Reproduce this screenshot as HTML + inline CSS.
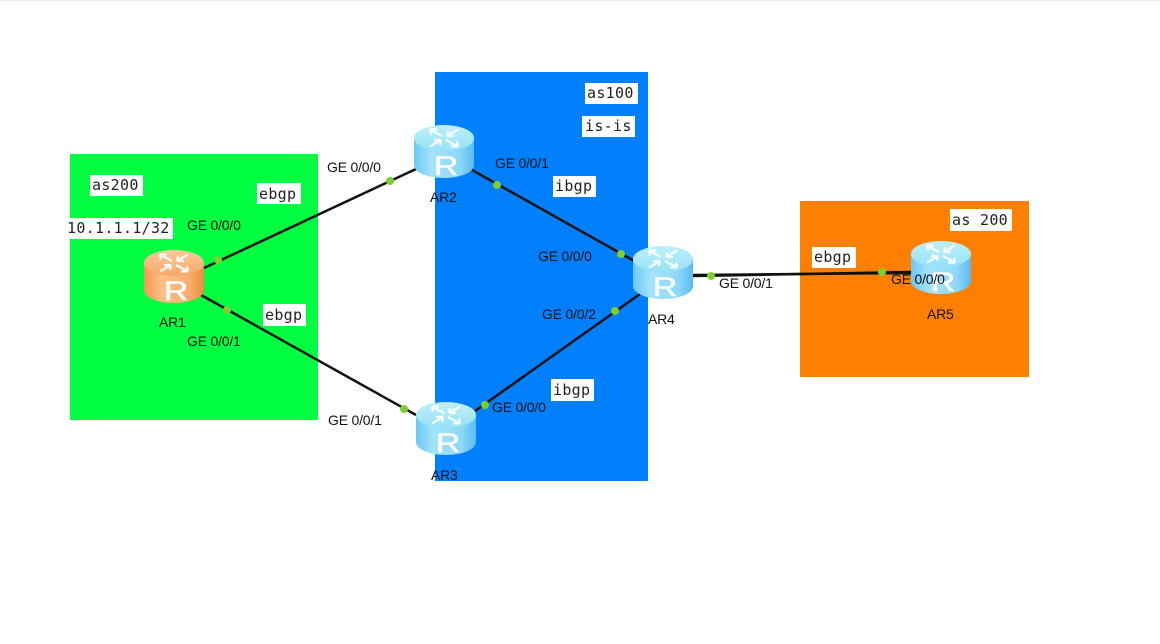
<!DOCTYPE html>
<html><head><meta charset="utf-8"><style>
html,body{margin:0;padding:0;background:#fff;width:1160px;height:644px;overflow:hidden}
svg{display:block;filter:blur(.35px)}
.g{font:14px "Liberation Sans",sans-serif;fill:#111;letter-spacing:-.2px}
.m{font:15px "DejaVu Sans Mono","Liberation Mono",monospace;fill:#222;letter-spacing:.3px}
.r{font:27px "Liberation Sans",sans-serif;fill:#fff;stroke:#fff;stroke-width:.5;text-anchor:middle}
.a{fill:none;stroke:#fff;stroke-width:2.3;opacity:.92}
</style></head><body>
<svg width="1160" height="644" viewBox="0 0 1160 644" xmlns="http://www.w3.org/2000/svg">
<defs>
<linearGradient id="b" x1="0" x2="1" y1="0" y2="0"><stop offset="0" stop-color="#6cc8f4"/><stop offset=".3" stop-color="#a5e3fb"/><stop offset=".75" stop-color="#8fd8fa"/><stop offset="1" stop-color="#58bdf0"/></linearGradient>
<linearGradient id="bt" x1="0" x2="0" y1="0" y2="1"><stop offset="0" stop-color="#bdf0fb"/><stop offset="1" stop-color="#96e2f6"/></linearGradient>
<linearGradient id="o" x1="0" x2="1" y1="0" y2="0"><stop offset="0" stop-color="#f39a4e"/><stop offset=".3" stop-color="#fdc08a"/><stop offset=".75" stop-color="#f9ae6c"/><stop offset="1" stop-color="#ee8c3c"/></linearGradient>
<linearGradient id="ot" x1="0" x2="0" y1="0" y2="1"><stop offset="0" stop-color="#fdc99a"/><stop offset="1" stop-color="#f8a868"/></linearGradient>
<g id="arrows">
<path class="a" d="M16 4.500L28 11M16 4.500h7M16 4.500l1 5M44 4.500L33 11M33 11h7M33 11l1-5M16 21.500L27 15M27 15h-7M27 15l-1 5M44 21.500L32 15M44 21.500h-7M44 21.500l-1-5"/>
</g>
<g id="bb"><path d="M0 13V40C0 47 13 53 30 53S60 47 60 40V13Z" fill="url(#b)"/><ellipse cx="30" cy="13" rx="30" ry="13" fill="url(#bt)"/><use href="#arrows"/></g>
<g id="oo"><path d="M0 13V40C0 47 13 53 30 53S60 47 60 40V13Z" fill="url(#o)"/><ellipse cx="30" cy="13" rx="30" ry="13" fill="url(#ot)"/><use href="#arrows"/></g>
</defs>
<rect width="1160" height="644" fill="#fff"/>
<rect x="0" y="0" width="1160" height="1" fill="#eee"/>
<rect x="70" y="154" width="248" height="266" fill="#00ff40"/>
<rect x="435" y="72" width="213" height="409" fill="#0080ff"/>
<rect x="800" y="201" width="229" height="176" fill="#ff8000"/>

<g stroke="#111" stroke-width="2.5" fill="none">
<line x1="204" y1="268" x2="416" y2="169"/>
<line x1="201" y1="295" x2="416" y2="415"/>
<line x1="472" y1="170" x2="636" y2="262"/>
<line x1="475" y1="411" x2="640" y2="294"/>
<line x1="693" y1="276" x2="911" y2="272"/>
<line x1="693" y1="275" x2="911" y2="273"/>
</g>
<g fill="#7fd02a">
<circle cx="218" cy="260" r="4"/><circle cx="390" cy="181" r="4"/><circle cx="227" cy="310" r="4"/><circle cx="404" cy="409" r="4"/><circle cx="497" cy="185" r="4"/><circle cx="621" cy="254" r="4"/><circle cx="485" cy="405" r="4"/><circle cx="615" cy="311" r="4"/><circle cx="711" cy="276" r="4"/><circle cx="882" cy="272" r="4"/>
</g>

<g transform="translate(144,250)"><use href="#oo"/><text class="r" transform="translate(32,50) scale(1.25,1)">R</text></g>
<g transform="translate(414,125)"><use href="#bb"/><text class="r" transform="translate(32,50) scale(1.25,1)">R</text></g>
<g transform="translate(416,402)"><use href="#bb"/><text class="r" transform="translate(32,50) scale(1.25,1)">R</text></g>
<g transform="translate(633,246)"><use href="#bb"/><text class="r" transform="translate(32,50) scale(1.25,1)">R</text></g>
<g transform="translate(911,241)"><use href="#bb"/><text class="r" transform="translate(32,50) scale(1.25,1)">R</text></g>

<g fill="#fff">
<rect x="90" y="175" width="53" height="21"/>
<rect x="257" y="183" width="44" height="21"/>
<rect x="65" y="218" width="108" height="21"/>
<rect x="263" y="304" width="43" height="22"/>
<rect x="585" y="83" width="53" height="21"/>
<rect x="582" y="116" width="53" height="21"/>
<rect x="553" y="176" width="43" height="21"/>
<rect x="551" y="379" width="43" height="22"/>
<rect x="950" y="209" width="62" height="22"/>
<rect x="812" y="247" width="44" height="21"/>
</g>
<g class="m">
<text x="92" y="190">as200</text>
<text x="259" y="199">ebgp</text>
<text x="67" y="233">10.1.1.1/32</text>
<text x="265" y="320">ebgp</text>
<text x="587" y="98">as100</text>
<text x="585" y="131">is-is</text>
<text x="555" y="191">ibgp</text>
<text x="553" y="395">ibgp</text>
<text x="952" y="225">as 200</text>
<text x="814" y="262">ebgp</text>
</g>
<g class="g">
<text x="187" y="230">GE 0/0/0</text>
<text x="187" y="346">GE 0/0/1</text>
<text x="159" y="327">AR1</text>
<text x="327" y="172">GE 0/0/0</text>
<text x="328" y="425">GE 0/0/1</text>
<text x="430" y="202">AR2</text>
<text x="495" y="168">GE 0/0/1</text>
<text x="538" y="261">GE 0/0/0</text>
<text x="542" y="319">GE 0/0/2</text>
<text x="492" y="412">GE 0/0/0</text>
<text x="431" y="480">AR3</text>
<text x="648" y="324">AR4</text>
<text x="719" y="288">GE 0/0/1</text>
<text x="891" y="284">GE 0/0/0</text>
<text x="927" y="319">AR5</text>
</g>
</svg>
</body></html>
